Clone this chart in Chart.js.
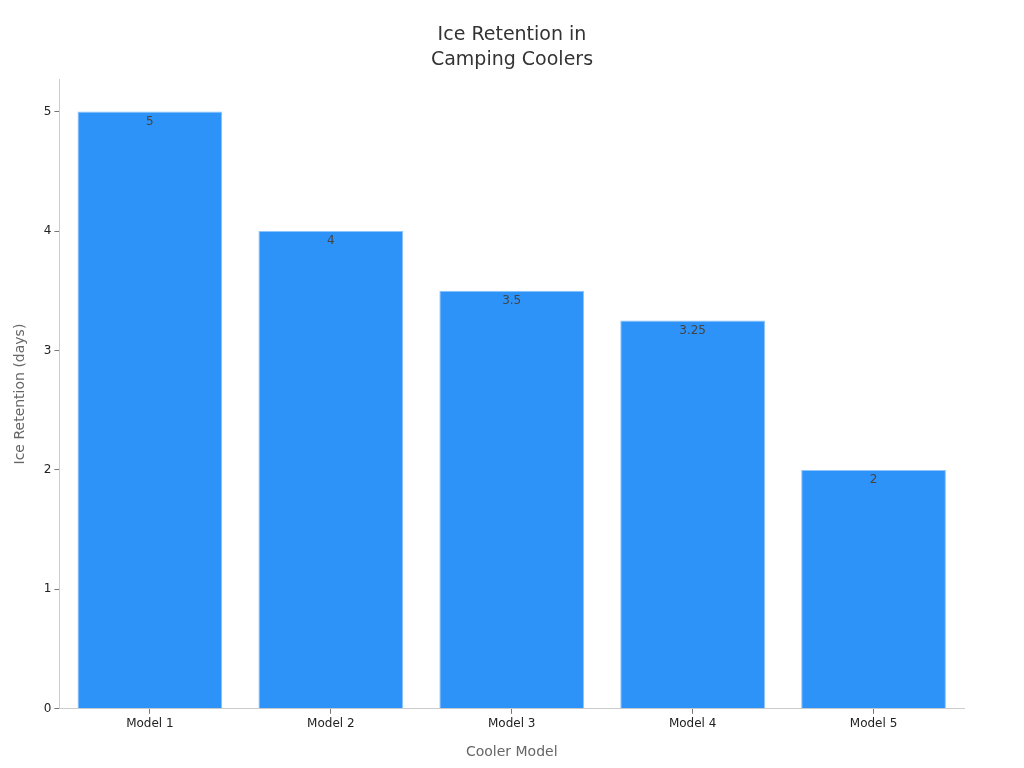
<!DOCTYPE html>
<html>
<head>
<meta charset="utf-8">
<script src="https://cdn.jsdelivr.net/npm/chart.js@4.4.0/dist/chart.umd.min.js"></script>
<style>
  html, body { margin: 0; padding: 0; background: #fff; }
  #wrap { width: 1024px; height: 768px; }
</style>
</head>
<body>
<div id="wrap"><canvas id="chart"></canvas></div>
<script>
const models = ["Model 1", "Model 2", "Model 3", "Model 4", "Model 5"];
const retentionDays = [5, 4, 3.5, 3.25, 2];

// labels at the top of each bar
const barLabels = {
  id: "barLabels",
  afterDatasetsDraw(chart) {
    const ctx = chart.ctx;
    const meta = chart.getDatasetMeta(0);
    ctx.save();
    ctx.font = "12px 'DejaVu Sans'";
    ctx.fillStyle = "#444";
    ctx.textAlign = "center";
    ctx.textBaseline = "top";
    meta.data.forEach((bar, i) => {
      ctx.fillText(String(retentionDays[i]), bar.x, bar.y + 4);
    });
    ctx.restore();
  },
};

// centre the title on the whole canvas, not the padded box
const centerTitle = {
  id: "centerTitle",
  afterLayout(chart) {
    if (chart.titleBlock) {
      chart.titleBlock.left = 0;
      chart.titleBlock.right = chart.width;
    }
  },
};

const ctx = document.getElementById("chart").getContext("2d");
const myChart = new Chart(ctx, {
  type: "bar",
  data: {
    labels: models,
    datasets: [{
      data: retentionDays,
      backgroundColor: "#2E93F8",
      borderColor: "#8cc4fb",
      borderWidth: 1,
      categoryPercentage: 0.8,
      barPercentage: 1,
    }],
  },
  plugins: [barLabels, centerTitle],
  options: {
    responsive: true,
    maintainAspectRatio: false,
    animation: false,
    layout: { padding: { left: 8, right: 60, top: 8, bottom: 3 } },
    plugins: {
      legend: { display: false },
      tooltip: { enabled: false },
      title: {
        display: true,
        text: ["Ice Retention in", "Camping Coolers"],
        color: "#333",
        font: { family: "'DejaVu Sans'", size: 19, weight: "normal", lineHeight: 1.35 },
        padding: { top: 14, bottom: 6 },
      },
    },
    scales: {
      x: {
        grid: { offset: false, drawOnChartArea: false, drawTicks: true, tickLength: 5, color: "#777" },
        border: { color: "#ccc" },
        ticks: { color: "#222", font: { family: "'DejaVu Sans'", size: 12 }, padding: 3 },
        title: {
          display: true,
          text: "Cooler Model",
          color: "#666",
          font: { family: "'DejaVu Sans'", size: 14 },
          padding: { top: 10 },
        },
      },
      y: {
        min: 0,
        max: 5.27,
        afterBuildTicks(scale) {
          scale.ticks = scale.ticks.filter((t) => Number.isInteger(t.value));
        },
        grid: { drawOnChartArea: false, drawTicks: true, tickLength: 5, color: "#777" },
        border: { color: "#ccc" },
        ticks: { stepSize: 1, color: "#222", font: { family: "'DejaVu Sans'", size: 12 }, padding: 3 },
        title: {
          display: true,
          text: "Ice Retention (days)",
          color: "#666",
          font: { family: "'DejaVu Sans'", size: 14 },
          padding: { bottom: 12 },
        },
      },
    },
  },
});
</script>
</body>
</html>
